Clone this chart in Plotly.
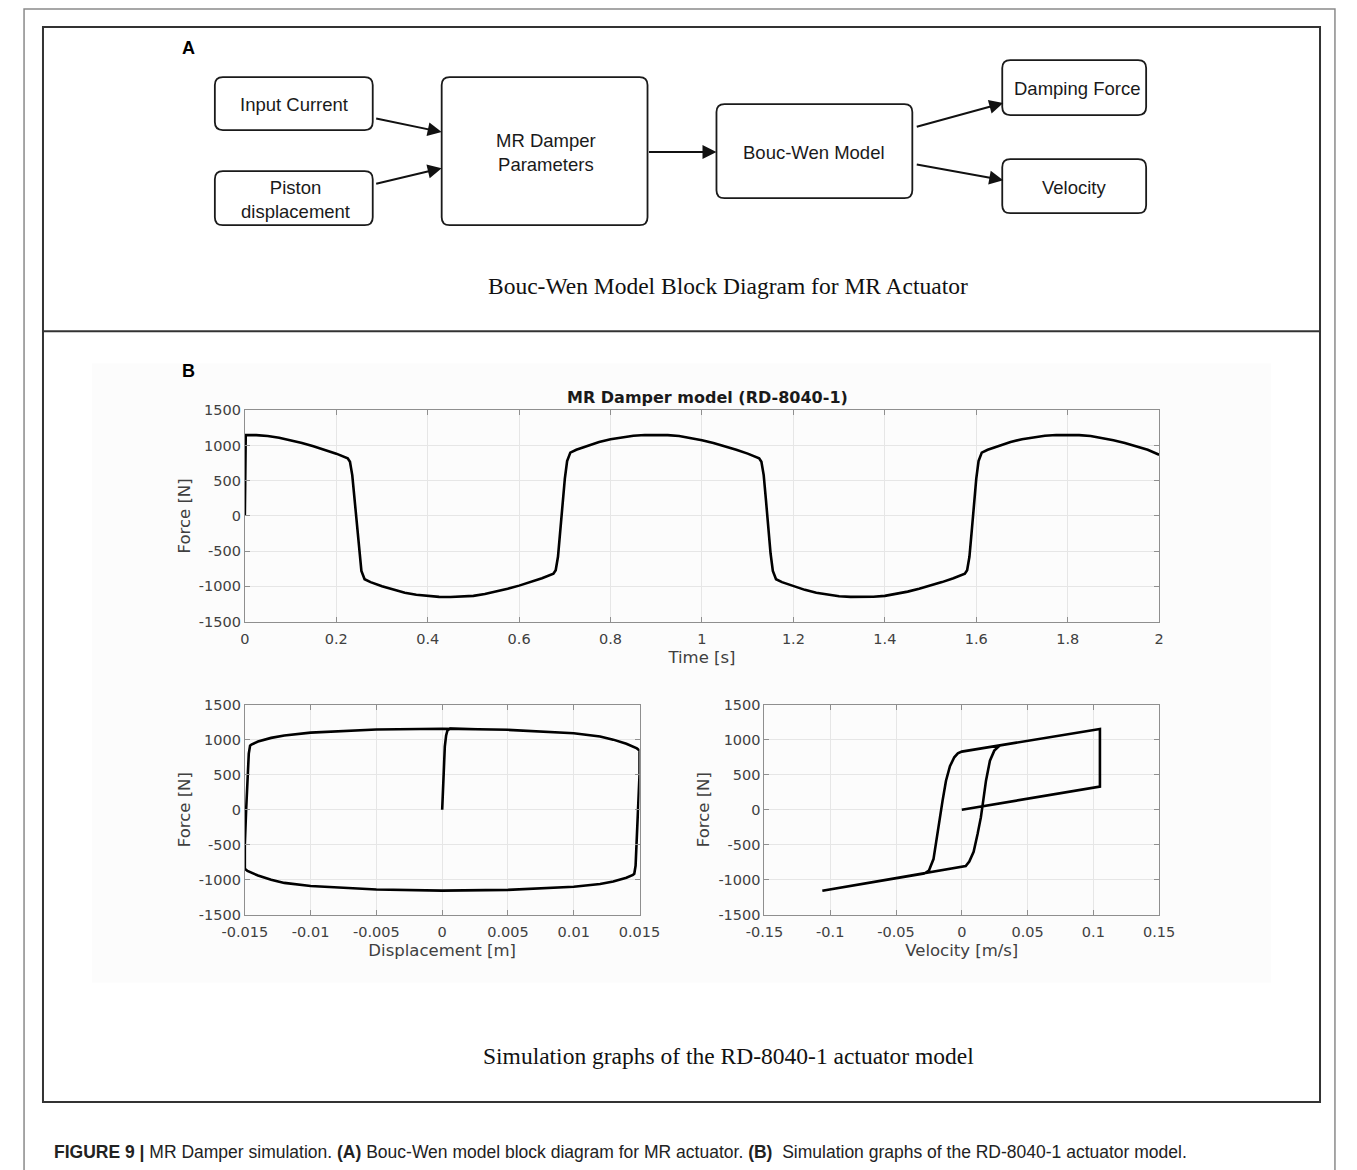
import plotly.graph_objects as go

# ---------------- data ----------------
time_s = [0.000, 0.002, 0.025, 0.050, 0.075, 0.100, 0.125, 0.150, 0.175, 0.200, 0.225,
          0.230, 0.235, 0.240, 0.245, 0.250, 0.255, 0.262, 0.275, 0.300, 0.325, 0.350,
          0.375, 0.400, 0.425, 0.450, 0.475, 0.500, 0.525, 0.550, 0.575, 0.600, 0.625,
          0.650, 0.675, 0.680, 0.685, 0.690, 0.695, 0.700, 0.705, 0.712, 0.725, 0.750,
          0.775, 0.800, 0.825, 0.850, 0.875, 0.900, 0.925, 0.950, 0.975, 1.000, 1.025,
          1.050, 1.075, 1.100, 1.125, 1.130, 1.135, 1.140, 1.145, 1.150, 1.155, 1.162,
          1.175, 1.200, 1.225, 1.250, 1.275, 1.300, 1.325, 1.350, 1.375, 1.400, 1.425,
          1.450, 1.475, 1.500, 1.525, 1.550, 1.575, 1.580, 1.585, 1.590, 1.595, 1.600,
          1.605, 1.612, 1.625, 1.650, 1.675, 1.700, 1.725, 1.750, 1.775, 1.800, 1.825,
          1.850, 1.875, 1.900, 1.925, 1.950, 1.975, 2.000]
force_time_N = [0, 1150, 1148, 1135, 1110, 1075, 1035, 990, 940, 885, 820,
                770, 580, 220, -180, -530, -780, -900, -940, -1000, -1050, -1090,
                -1120, -1140, -1150, -1152, -1148, -1135, -1110, -1075, -1035, -990, -940,
                -885, -820, -770, -580, -220, 180, 530, 780, 900, 940, 1000,
                1050, 1090, 1120, 1140, 1150, 1152, 1148, 1135, 1110, 1075, 1035,
                990, 940, 885, 820, 770, 580, 220, -180, -530, -780, -900,
                -940, -1000, -1050, -1090, -1120, -1140, -1150, -1152, -1148, -1135, -1110,
                -1075, -1035, -990, -940, -885, -820, -770, -580, -220, 180, 530,
                780, 900, 940, 1000, 1050, 1090, 1120, 1140, 1150, 1152, 1148,
                1135, 1110, 1075, 1035, 990, 940, 870]

disp_m = [0.0, 0.0001, 0.0002, 0.0003, 0.0004, 0.0006,
          0.005, 0.010, 0.012, 0.013, 0.014, 0.0148, 0.015,
          0.015, 0.0149, 0.0148, 0.0147, 0.0146,
          0.0145, 0.014, 0.013, 0.012, 0.010, 0.005, 0.0, -0.005, -0.010, -0.012, -0.013,
          -0.014, -0.0148, -0.015,
          -0.015, -0.0149, -0.0148, -0.0147, -0.0146,
          -0.0145, -0.014, -0.013, -0.012, -0.010, -0.005, 0.0, 0.005]
force_disp_N = [0, 500, 900, 1060, 1130, 1155,
                1140, 1090, 1045, 1000, 940, 875, 843,
                500, 0, -500, -800, -914,
                -930, -972, -1025, -1060, -1100, -1145, -1155, -1140, -1090, -1045, -1000,
                -940, -875, -843,
                -500, 0, 500, 800, 914,
                930, 972, 1025, 1060, 1100, 1145, 1155, 1140]

vel_ms = [0.0, 0.105, 0.105, 0.029, 0.0,
          -0.003, -0.0057, -0.009, -0.012, -0.0146, -0.0166, -0.0187, -0.0215, -0.025, -0.0285,
          -0.106, -0.0285, 0.0,
          0.003, 0.0057, 0.009, 0.012, 0.0145, 0.0163, 0.0184, 0.0214, 0.0247, 0.029, 0.105]
force_vel_N = [0, 329, 1152, 918, 829,
               805, 748, 620, 414, 129, -110, -395, -705, -871, -912,
               -1157, -912, -824,
               -805, -740, -600, -348, -110, 129, 414, 700, 843, 918, 1152]

force_ticks = [-1500, -1000, -500, 0, 500, 1000, 1500]
force_ticktext = ["-1500", "-1000", "-500", "0", "500", "1000", "1500"]
time_ticks = [0, 0.2, 0.4, 0.6, 0.8, 1, 1.2, 1.4, 1.6, 1.8, 2]
time_ticktext = ["0", "0.2", "0.4", "0.6", "0.8", "1", "1.2", "1.4", "1.6", "1.8", "2"]
disp_ticks = [-0.015, -0.01, -0.005, 0, 0.005, 0.01, 0.015]
disp_ticktext = ["-0.015", "-0.01", "-0.005", "0", "0.005", "0.01", "0.015"]
vel_ticks = [-0.15, -0.1, -0.05, 0, 0.05, 0.1, 0.15]
vel_ticktext = ["-0.15", "-0.1", "-0.05", "0", "0.05", "0.1", "0.15"]

W, H = 1357, 1170
# observed placement of the rendered figure inside the page
OX, OY, FW, FH = 23, 8, 1314, 1153


def X(px):
    return (px - OX) / FW


def Y(py):
    return 1 - (py - OY) / FH


def clampx(v):
    return min(max(v, 0.0008), 0.9992)


fig = go.Figure()
line = dict(color="black", width=2.6)
fig.add_trace(go.Scatter(x=time_s, y=force_time_N, mode="lines", line=line,
                         xaxis="x", yaxis="y", showlegend=False))
fig.add_trace(go.Scatter(x=disp_m, y=force_disp_N, mode="lines", line=line,
                         xaxis="x2", yaxis="y2", showlegend=False))
fig.add_trace(go.Scatter(x=vel_ms, y=force_vel_N, mode="lines", line=line,
                         xaxis="x3", yaxis="y3", showlegend=False))

tickfont = dict(family="DejaVu Sans", size=14.5, color="#404040")
titlefont = dict(family="DejaVu Sans", size=16.5, color="#404040")
ax_common = dict(showline=True, mirror="ticks", linecolor="#8f8f8f", linewidth=1,
                 ticks="inside", ticklen=5, tickcolor="#8f8f8f",
                 showgrid=True, gridcolor="#e6e6e6", gridwidth=1, zeroline=False,
                 tickfont=tickfont)


def xax(dom, rng, tv, tt, title, anchor):
    d = dict(ax_common)
    d.update(domain=dom, range=rng, tickvals=tv, ticktext=tt, anchor=anchor,
             ticklabelstandoff=4,
             title=dict(text=title, font=titlefont, standoff=5))
    return d


def yax(dom, anchor):
    d = dict(ax_common)
    d.update(domain=dom, range=[-1500, 1500], tickvals=force_ticks, ticktext=force_ticktext,
             anchor=anchor, title=dict(text="Force [N]", font=titlefont, standoff=4))
    return d


fig.update_layout(
    width=W, height=H, margin=dict(l=0, r=0, t=0, b=0),
    paper_bgcolor="white", plot_bgcolor="white",
    xaxis=xax([X(245), X(1160)], [0, 2], time_ticks, time_ticktext, "Time [s]", "y"),
    yaxis=yax([Y(621), Y(410)], "x"),
    xaxis2=xax([X(245), X(640)], [-0.015, 0.015], disp_ticks, disp_ticktext,
               "Displacement [m]", "y2"),
    yaxis2=yax([Y(914), Y(704)], "x2"),
    xaxis3=xax([X(765), X(1160)], [-0.15, 0.15], vel_ticks, vel_ticktext,
               "Velocity [m/s]", "y3"),
    yaxis3=yax([Y(914), Y(704)], "x3"),
)

shapes = []
# outer frame, faint panel background, inner frame, divider
shapes.append(dict(type="rect", xref="paper", yref="paper", x0=clampx(X(8)), x1=clampx(X(1356)),
                   y0=-0.01, y1=Y(9),
                   line=dict(color="#8a8a8a", width=1.5), layer="below"))
shapes.append(dict(type="rect", xref="paper", yref="paper", x0=X(92), x1=X(1272), y0=Y(982), y1=Y(363),
                   line=dict(width=0), fillcolor="#fcfcfc", layer="below"))
shapes.append(dict(type="rect", xref="paper", yref="paper", x0=X(43), x1=X(1321), y0=Y(1101), y1=Y(27),
                   line=dict(color="#333333", width=2)))
shapes.append(dict(type="line", xref="paper", yref="paper", x0=X(43), x1=X(1321), y0=Y(331), y1=Y(331),
                   line=dict(color="#333333", width=2)))


def rrect(x0, y0, x1, y1, r=8):
    rx, ry = r / FW, r / FH
    a, b, c, d = X(x0), X(x1), Y(y0), Y(y1)  # c top, d bottom
    p = (f"M {a+rx},{c} L {b-rx},{c} Q {b},{c} {b},{c-ry} L {b},{d+ry} Q {b},{d} {b-rx},{d} "
         f"L {a+rx},{d} Q {a},{d} {a},{d+ry} L {a},{c-ry} Q {a},{c} {a+rx},{c} Z")
    return dict(type="path", xref="paper", yref="paper", path=p,
                line=dict(color="#1a1a1a", width=1.8))


boxes = [(215, 77, 373, 130), (215, 171, 373, 225), (442, 77, 648, 225),
         (717, 104, 913, 198), (1003, 60, 1147, 115), (1003, 159, 1147, 213)]
for bx in boxes:
    shapes.append(rrect(*bx))
fig.update_layout(shapes=shapes)

ann = []
box_font = dict(family="Liberation Sans, Arial", size=18.5, color="#1a1a1a")
labels = [("Input Current", 294, 104), ("Piston<br>displacement", 296, 199),
          ("MR Damper<br>Parameters", 546, 152), ("Bouc-Wen Model", 815, 152),
          ("Damping Force", 1078, 88), ("Velocity", 1075, 187)]
for t, cx, cy in labels:
    ann.append(dict(text=t, x=X(cx), y=Y(cy), xref="paper", yref="paper", showarrow=False,
                    font=box_font, xanchor="center", yanchor="middle"))

arrows = [((375, 118), (442, 132)), ((375, 184), (442, 168)), ((648, 152), (717, 152)),
          ((916, 127), (1004, 103)), ((916, 164), (1004, 180))]
for (sx, sy), (ex, ey) in arrows:
    ann.append(dict(text="", x=X(ex), y=Y(ey), xref="paper", yref="paper", showarrow=True,
                    ax=sx - ex, ay=sy - ey, axref="pixel", ayref="pixel",
                    arrowhead=2, arrowsize=1.4, arrowwidth=2, arrowcolor="#111111", standoff=0))

letter_font = dict(family="Liberation Sans, Arial", size=18, color="black")
ann.append(dict(text="<b>A</b>", x=X(180), y=Y(48), xref="paper", yref="paper", showarrow=False,
                font=letter_font, yanchor="middle"))
ann.append(dict(text="<b>B</b>", x=X(180), y=Y(371), xref="paper", yref="paper", showarrow=False,
                font=letter_font, yanchor="middle"))
serif = dict(family="Liberation Serif, Times New Roman", size=23.5, color="#111111")
ann.append(dict(text="Bouc-Wen Model Block Diagram for MR Actuator", x=X(729), y=Y(286),
                xref="paper", yref="paper", showarrow=False, font=serif, yanchor="middle"))
ann.append(dict(text="Simulation graphs of the RD-8040-1 actuator model", x=X(729), y=Y(1055),
                xref="paper", yref="paper", showarrow=False, font=serif, yanchor="middle"))
ann.append(dict(text="<b>MR Damper model (RD-8040-1)</b>", x=X(708), y=Y(397),
                xref="paper", yref="paper", showarrow=False, yanchor="middle",
                font=dict(family="DejaVu Sans", size=16, color="#1a1a1a")))
ann.append(dict(text="<b>FIGURE 9 |</b> MR Damper simulation. <b>(A)</b> Bouc-Wen model block diagram "
                     "for MR actuator. <b>(B)</b>&nbsp; Simulation graphs of the RD-8040-1 actuator model.",
                x=X(52), y=Y(1151), xref="paper", yref="paper", showarrow=False, xanchor="left",
                yanchor="middle",
                font=dict(family="Liberation Sans, Arial", size=17.5, color="#222222")))
fig.update_layout(annotations=ann)

fig.write_html("out.html")
